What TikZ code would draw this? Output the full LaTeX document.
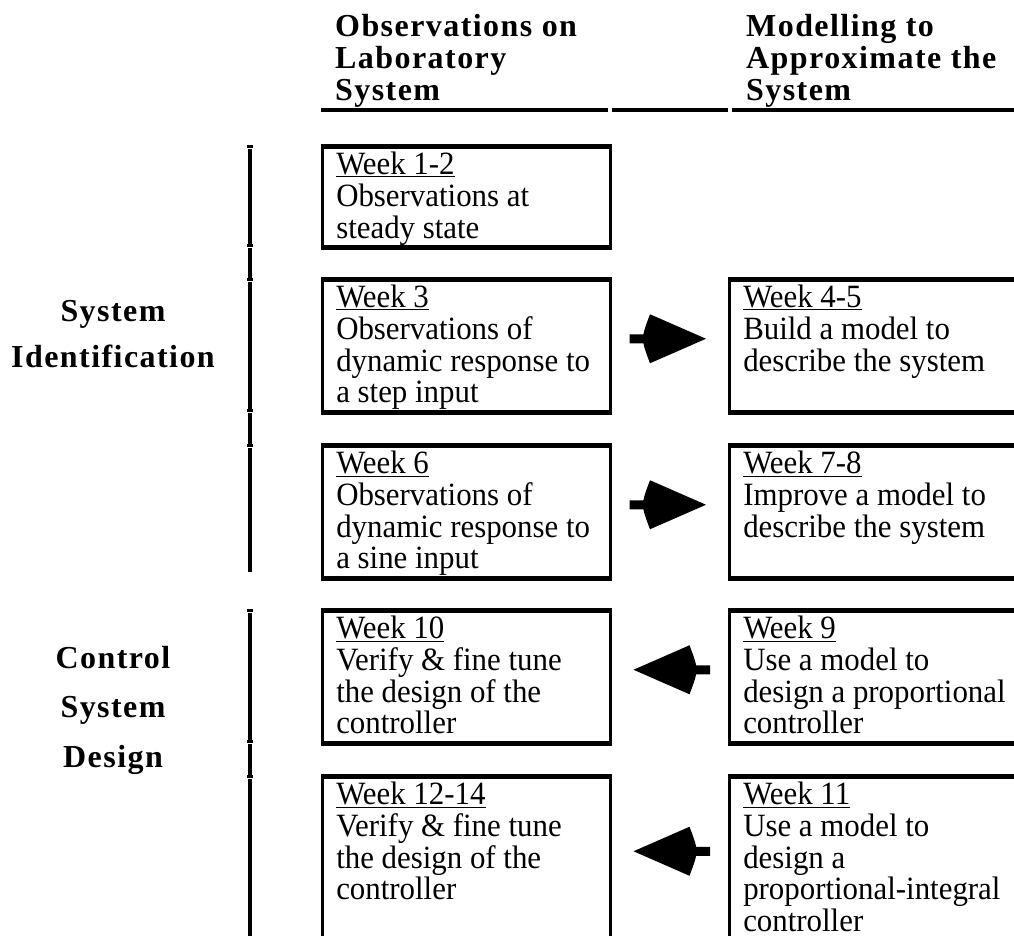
\documentclass[tikz,border=0pt]{standalone}
\usepackage{fontspec}
\setmainfont{Liberation Serif}
\newfontfamily\bodyfont[FakeStretch=0.95]{Liberation Serif}
\newfontfamily\headfont[LetterSpace=4.5]{Liberation Serif}
\usetikzlibrary{arrows.meta,positioning,calc}
\newcommand{\weektext}[4]{\parbox[t][#1][t]{#2}{\raggedright\underline{#3}\\#4}}

\begin{document}
\begin{tikzpicture}[x=1pt,y=-1pt,
	week_box/.style={draw,line width=2.5pt,anchor=north west,inner xsep=14pt,inner ysep=5pt,font=\bodyfont\fontsize{32.5}{31.7}\selectfont,
		append after command={(\tikzlastnode.north west) edge[line width=4pt] (\tikzlastnode.north east)
			(\tikzlastnode.south west) edge[line width=4pt] (\tikzlastnode.south east)}},
	head_node/.style={anchor=north west,align=left,inner sep=0pt,font=\headfont\bfseries\fontsize{32}{32}\selectfont},
	side_node/.style={anchor=north,align=center,inner sep=0pt,font=\headfont\bfseries\fontsize{32}{#1}\selectfont},
	fat_arrow/.style={fill,draw=none,to path={let \p1=($(\tikztostart)!18pt!(\tikztotarget)$),
			\p2=($(\tikztotarget)!22pt!(\tikztostart)$), \p3=($(\p2)!56pt!(\p1)$), \p4=($(\p2)!65.3pt!(\p1)$) in
			($(\p1)!4.5pt!90:(\p2)$) -- ($(\p1)!4.5pt!-90:(\p2)$) -- ($(\p3)!4.5pt!-90:(\p2)$) -- ($(\p3)!4.5pt!90:(\p2)$) -- cycle
			($(\p3)!24.5pt!-90:(\p2)$) -- (\p2) -- ($(\p3)!24.5pt!90:(\p2)$) .. controls (\p4) .. ($(\p3)!24.5pt!-90:(\p2)$) -- cycle}}]
	\useasboundingbox (0,0) rectangle (1014,935);
	\node[head_node] (hlab) at (335,14) {Observations on\\Laboratory\\System};
	\node[head_node] (hmod) at (746,14) {Modelling to\\Approximate the\\System};
	\draw[line width=4pt] (321,110) -- (608,110) (612,110) -- (728,110) (732,110) -- (1014,110);
	\node[side_node=46pt] (sysid) at (113,300) {System\\Identification};
	\node[side_node=49.5pt] (csd) at (113,646) {Control\\System\\Design};
	\foreach \a/\b in {146/245,245/279,279/410,410/445,445/573,610/741,741/776,776/940}{
		\fill (247,\a-1) rectangle (253,\a+1.5);
		\draw[line width=4.5pt] (250,\a+3) -- (250,\b-1);
	}
	\node[week_box] (w12) at (321,146) {\weektext{89pt}{260pt}{Week 1-2}{Observations at\\steady state}};
	\node[week_box] (w3) at (321,279) {\weektext{121pt}{260pt}{Week 3}{Observations of\\dynamic response to\\a step input}};
	\node[week_box] (w45) at (728,279) {\weektext{121pt}{300pt}{Week 4-5}{Build a model to\\describe the system}};
	\node[week_box] (w6) at (321,445) {\weektext{121pt}{260pt}{Week 6}{Observations of\\dynamic response to\\a sine input}};
	\node[week_box] (w78) at (728,445) {\weektext{121pt}{300pt}{Week 7-8}{Improve a model to\\describe the system}};
	\node[week_box] (w10) at (321,610) {\weektext{121pt}{260pt}{Week 10}{Verify \& fine tune\\the design of the\\controller}};
	\node[week_box] (w9) at (728,610) {\weektext{121pt}{300pt}{Week 9}{Use a model to\\design a proportional\\controller}};
	\node[week_box] (w1214) at (321,776) {\weektext{152pt}{260pt}{Week 12-14}{Verify \& fine tune\\the design of the\\controller}};
	\node[week_box] (w11) at (728,776) {\weektext{152pt}{300pt}{Week 11}{Use a model to\\design a\\proportional-integral\\controller}};
	\path[every edge/.style={fat_arrow}]
	([yshift=7pt]w3.east) edge ([yshift=7pt]w45.west)
	([yshift=7pt]w6.east) edge ([yshift=7pt]w78.west)
	([yshift=7pt]w9.west) edge ([yshift=7pt]w10.east)
	([yshift=7pt]w11.west) edge ([yshift=7pt]w1214.east);
\end{tikzpicture}
\end{document}
